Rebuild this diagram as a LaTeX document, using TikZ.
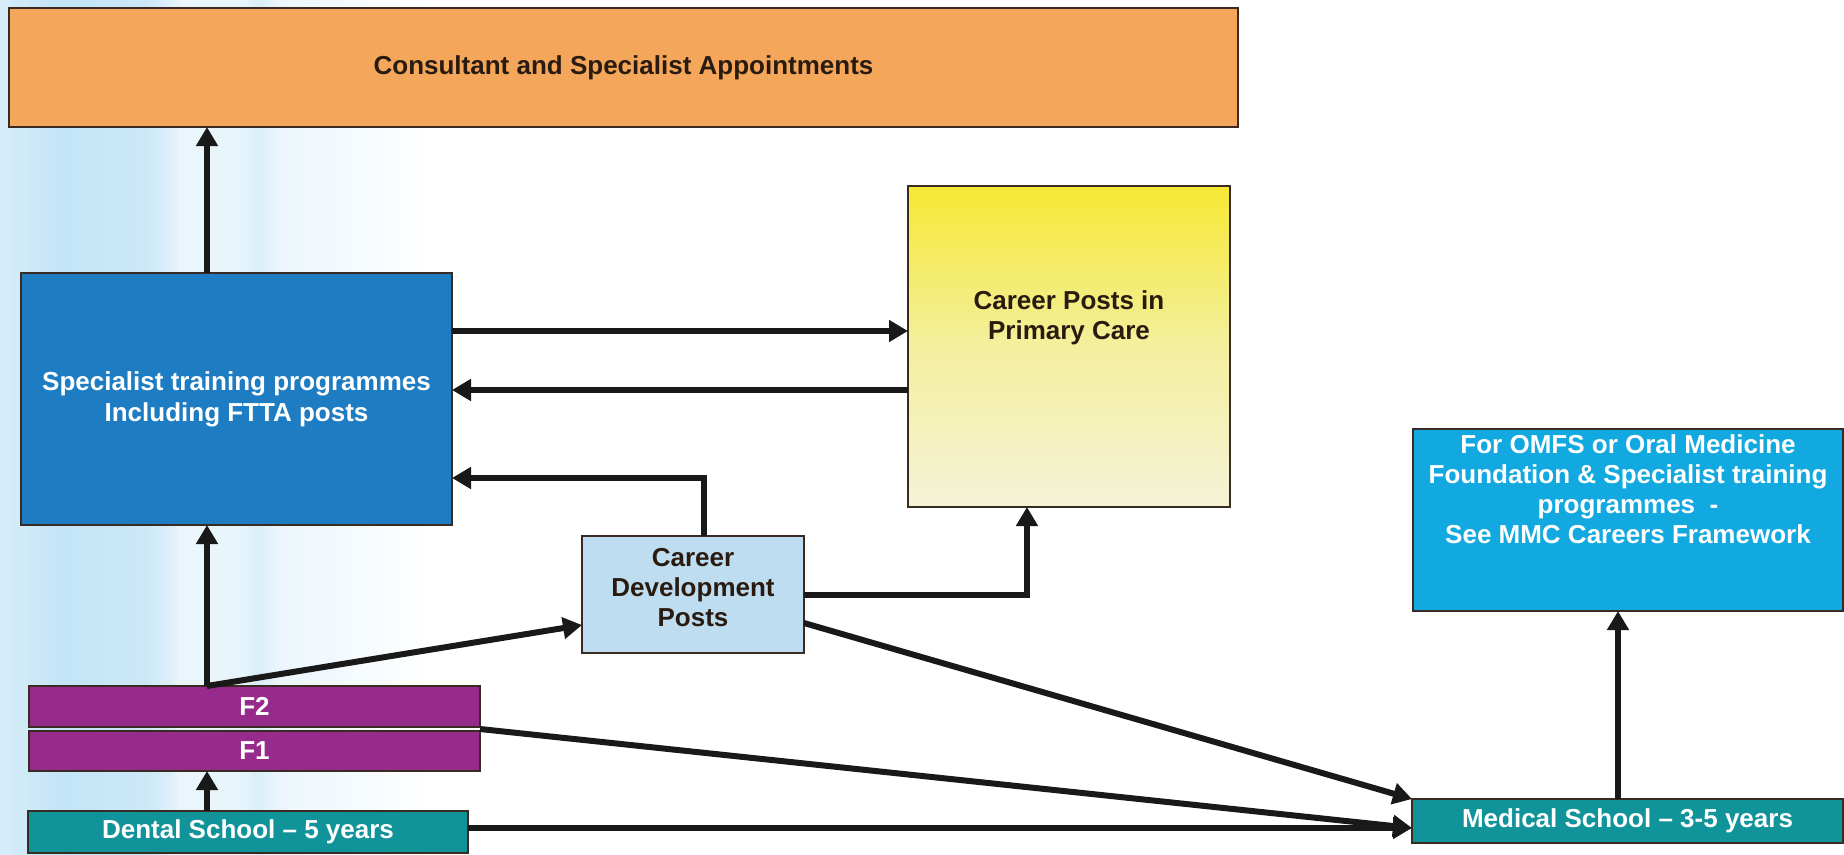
\documentclass[tikz,border=0pt]{standalone}
\usepackage{fontspec}
\setmainfont{Liberation Sans}
\usetikzlibrary{arrows.meta,calc}
\definecolor{orangeF}{HTML}{F4A65A}
\definecolor{specF}{HTML}{1E7CC2}
\definecolor{postsTop}{HTML}{F5E833}
\definecolor{postsMid}{HTML}{F4EF9E}
\definecolor{postsBot}{HTML}{F4F3D8}
\definecolor{cdpF}{HTML}{BEDDF1}
\definecolor{purpleF}{HTML}{962B8C}
\definecolor{tealF}{HTML}{11939A}
\definecolor{omfsF}{HTML}{12A9E1}
\definecolor{bord}{HTML}{3A2B22}
\definecolor{txtDark}{HTML}{2A1B10}
\definecolor{bgA}{HTML}{D8EDF9}
\definecolor{bgB}{HTML}{C3E5F7}
\definecolor{bgC}{HTML}{CCE8F8}
\definecolor{bgD}{HTML}{DDF0FA}
\definecolor{bgE}{HTML}{EBF6FC}
\definecolor{bgF}{HTML}{D8EEF9}
\definecolor{bgG}{HTML}{E6F4FB}
\begin{document}
\begin{tikzpicture}[x=1pt,y=-1pt,
  box/.style={draw=bord, line width=1.4pt, rectangle, inner sep=0pt, outer sep=0pt,
    font=\bfseries\fontsize{26}{31}\selectfont, align=center},
  darktxt/.style={text=txtDark},
  lighttxt/.style={text=white},
  conn/.style={draw=black!90, line width=6pt, -{Triangle[length=19pt,width=21pt]}},
  lbl/.style={font=\bfseries\fontsize{26}{30}\selectfont, align=center, inner sep=0pt}
]
\useasboundingbox (0,0) rectangle (1844,854);
\fill[white] (0,0) rectangle (1844,854);
% background stripes
\shade[left color=bgA, right color=bgB] (0,0) rectangle (60,854);
\shade[left color=bgB, right color=bgC] (60,0) rectangle (145,854);
\shade[left color=bgC, right color=bgD] (145,0) rectangle (170,854);
\shade[left color=bgD, right color=bgE] (170,0) rectangle (180,854);
\shade[left color=bgE, right color=bgG] (180,0) rectangle (245,854);
\shade[left color=bgG, right color=bgF] (245,0) rectangle (258,854);
\shade[left color=bgF, right color=bgE] (258,0) rectangle (278,854);
\shade[left color=bgE, right color=white] (278,0) rectangle (430,854);

% boxes
\node[box, fill=orangeF, darktxt, minimum width=1229pt, minimum height=119pt] (cons) at (623.5,67.5)
  {Consultant and Specialist Appointments};
\node[box, fill=specF, lighttxt, minimum width=431pt, minimum height=252pt] (spec) at (236.5,399)
  {Specialist training programmes\\Including FTTA posts};
\node[box, top color=postsTop, bottom color=postsBot, middle color=postsMid,
  minimum width=322pt, minimum height=321pt] (posts) at (1069,346.5) {};
\node[lbl, darktxt] (poststxt) at (1069,318) {Career Posts in\\Primary Care};
\node[box, fill=cdpF, minimum width=222pt, minimum height=117pt] (cdp) at (693,594.5) {};
\node[lbl, darktxt] (cdptxt) at (693,588) {Career\\Development\\Posts};
\node[box, fill=omfsF, minimum width=430pt, minimum height=182pt] (omfs) at (1628,520) {};
\node[lbl, lighttxt] (omfstxt) at (1628,489)
  {For OMFS or Oral Medicine\\Foundation \& Specialist training\\programmes\ \ -\\See MMC Careers Framework};
\node[box, fill=tealF, lighttxt, minimum width=431pt, minimum height=44pt] (med) at (1627.5,821)
  {Medical School -- 3-5 years};
\node[box, fill=purpleF, lighttxt, minimum width=451pt, minimum height=41pt] (f2) at (254.5,706.5) {F2};
\node[box, fill=purpleF, lighttxt, minimum width=451pt, minimum height=40pt] (f1) at (254.5,751) {F1};
\node[box, fill=tealF, lighttxt, minimum width=440pt, minimum height=42pt] (dental) at (248,832)
  {Dental School -- 5 years};

% helper coordinates
\coordinate (cA) at (207,0);
\coordinate (cB) at (704,0);
\coordinate (cC) at (1027,0);
\coordinate (cD) at (1618,0);
\coordinate (r1) at (0,331);
\coordinate (r2) at (0,390);
\coordinate (r3) at (0,478);
\coordinate (r4) at (0,595);
\coordinate (r5) at (0,623);
\coordinate (r6) at (0,625);
\coordinate (r7) at (0,828);
\coordinate (fj) at ($(f2.south east)!0.5!(f1.north east)$);

% connectors
\draw[conn] (spec.north -| cA) -- (cons.south -| cA);
\draw[conn] (spec.east |- r1) -- (posts.west |- r1);
\draw[conn] (posts.west |- r2) -- (spec.east |- r2);
\draw[conn] (cdp.north -| cB) |- (spec.east |- r3);
\draw[conn] (cdp.east |- r4) -| (posts.south -| cC);
\draw[conn] (cdp.east |- r5) -- (med.north west);
\draw[conn] (f2.north -| cA) -- (spec.south -| cA);
\draw[conn] (f2.north -| cA) -- (cdp.west |- r6);
\draw[conn] (dental.north -| cA) -- (f1.south -| cA);
\draw[conn] (fj) -- (med.west |- r7);
\draw[conn] (dental.east |- r7) -- (med.west |- r7);
\draw[conn] (med.north -| cD) -- (omfs.south -| cD);
\end{tikzpicture}
\end{document}
